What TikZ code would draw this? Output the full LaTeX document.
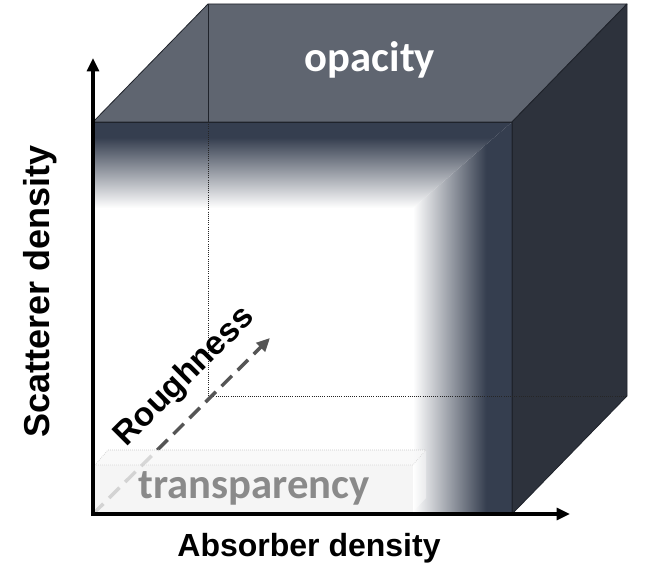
\documentclass[tikz,border=0pt]{standalone}
\usepackage{fontspec}
\setmainfont{Liberation Sans}
\newfontfamily\calfont{Carlito}
\usetikzlibrary{arrows.meta}
\definecolor{topc}{HTML}{5F6570}
\definecolor{sidec}{HTML}{2D323C}
\definecolor{framec}{HTML}{353E4F}
\definecolor{edgec}{HTML}{1F232B}
\definecolor{slabc}{HTML}{F3F3F3}
\definecolor{slabtopc}{HTML}{F8F8F8}
\definecolor{slabedgec}{HTML}{C8C8C8}
\definecolor{transpc}{HTML}{8A8A8A}
\definecolor{roughc}{HTML}{555555}
\pgfdeclareverticalshading{topfade}{100bp}{color(0bp)=(white); color(25bp)=(white); color(66bp)=(framec); color(100bp)=(framec)}
\pgfdeclarehorizontalshading{sidefade}{100bp}{color(0bp)=(white); color(25bp)=(white); color(62bp)=(framec); color(100bp)=(framec)}
\tikzset{
  face/.style={draw=edgec, line width=0.6pt, line join=round},
  hidden/.style={draw=black!85, line width=0.6pt, densely dotted},
  axis/.style={line width=2.3pt, {Triangle[length=10pt,width=9pt]}-{Triangle[length=10pt,width=9pt]}},
  rough/.style={draw=roughc, line width=2.6pt, dash pattern=on 11pt off 6pt, -{Triangle[length=10pt,width=9pt]}},
  axlbl/.style={font=\bfseries\fontsize{#1}{#1}\selectfont, inner sep=0pt},
  cublbl/.style={font=\calfont\bfseries\fontsize{#1}{#1}\selectfont, inner sep=0pt},
}
\begin{document}
\begin{tikzpicture}[x=0.75pt, y=-0.75pt]
\useasboundingbox (0,0) rectangle (661,585);
% front corners, then back corners
\coordinate (O) at (93,514);
\coordinate (A) at (512,514);
\coordinate (B) at (512,122);
\coordinate (C) at (93,122);
\coordinate (Ob) at (208,396);
\coordinate (Ab) at (627,396);
\coordinate (Bb) at (627,4);
\coordinate (Cb) at (208,4);
\coordinate (xend) at (570,514);
\coordinate (yend) at (93,58);
\coordinate (rtip) at (270,338);
% front face with fading frame
\fill[white] (O) rectangle (B);
\shade[shading=topfade] (C) -- (B) -- (413,208) -- (93,208) -- cycle;
\shade[shading=sidefade] (B) -- (A) -- (413,514) -- (413,208) -- cycle;
% top and right faces
\filldraw[face, fill=topc] (C) -- (B) -- (Bb) -- (Cb) -- cycle;
\filldraw[face, fill=sidec] (B) -- (A) -- (Ab) -- (Bb) -- cycle;
\draw[face] (C) -- (B) -- (A);
% hidden edges
\draw[face] (Cb) -- (Cb |- C);
\draw[hidden] (Cb |- C) -- (Ob) -- (Ab);
% roughness axis
\draw[rough] (O) -- (rtip);
\node[axlbl=25, rotate=45] (rough) at (185,377) {Roughness};
% transparency slab
\fill[slabc, fill opacity=0.8] (95,465) rectangle (413,512);
\filldraw[fill=slabtopc, draw=slabedgec, densely dotted, line width=0.5pt, fill opacity=0.8] (95,465) -- (108,450) -- (426,450) -- (413,465) -- cycle;
\fill[white, opacity=0.4] (413,465) -- (426,450) -- (426,498) -- (413,512) -- cycle;
\node[cublbl=32, text=transpc] (transp) at (254,488) {transparency};
% axes
\draw[axis] (yend) -- (O) -- (xend);
\node[axlbl=24] (xlbl) at (309,548) {Absorber density};
\node[axlbl=27, rotate=90] (ylbl) at (40,291) {Scatterer density};
\node[cublbl=32, text=white] (opac) at (370,60) {opacity};
\end{tikzpicture}
\end{document}
